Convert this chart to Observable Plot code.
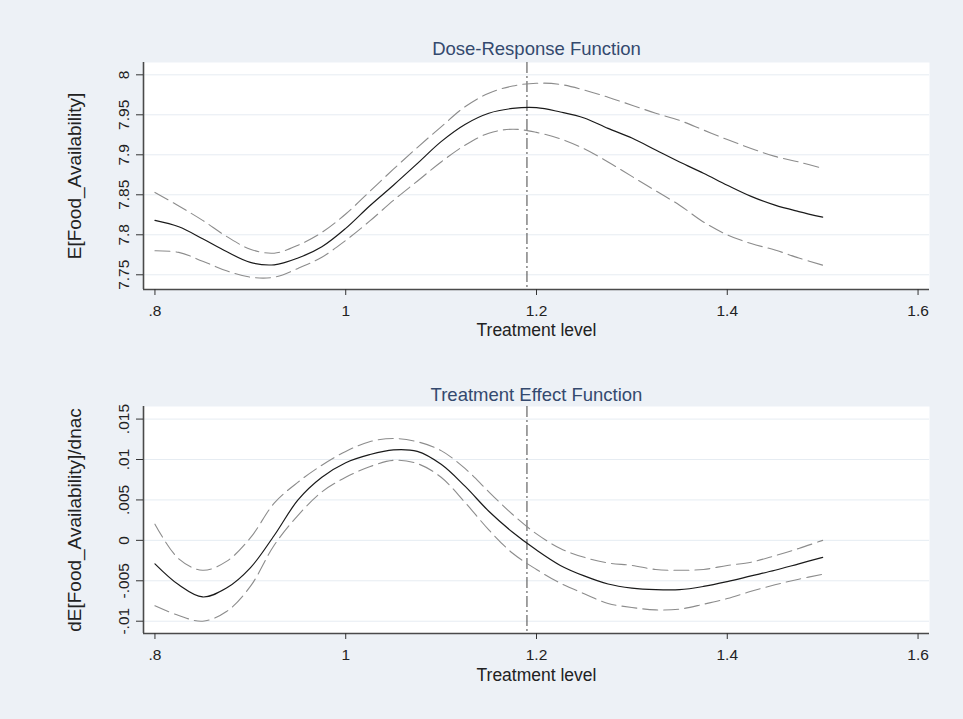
<!DOCTYPE html>
<html>
<head>
<meta charset="utf-8">
<script src="https://cdn.jsdelivr.net/npm/d3@7"></script>
<script src="https://cdn.jsdelivr.net/npm/@observablehq/plot@0.6"></script>
<style>
  html, body { margin: 0; padding: 0; background: #edf1f6; }
  #chart svg { display: block; }
</style>
</head>
<body>
<div id="chart"></div>
<script>
// Treatment levels (x)
const treatment = [0.800, 0.825, 0.850, 0.875, 0.900, 0.925, 0.950, 0.975, 1.000, 1.025,
                   1.050, 1.075, 1.100, 1.125, 1.150, 1.175, 1.200, 1.225, 1.250, 1.275,
                   1.300, 1.325, 1.350, 1.375, 1.400, 1.425, 1.450, 1.475, 1.500];

// Dose-response function
const drfMean  = [7.818, 7.810, 7.795, 7.779, 7.7655, 7.7625, 7.771, 7.785, 7.808, 7.836,
                  7.862, 7.889, 7.9165, 7.938, 7.952, 7.958, 7.959, 7.9535, 7.946, 7.933,
                  7.921, 7.906, 7.891, 7.877, 7.862, 7.848, 7.837, 7.829, 7.822];
const drfUpper = [7.853, 7.836, 7.818, 7.798, 7.782, 7.777, 7.787, 7.803, 7.826, 7.854,
                  7.882, 7.909, 7.935, 7.960, 7.977, 7.986, 7.9895, 7.988, 7.981, 7.972,
                  7.962, 7.952, 7.943, 7.931, 7.919, 7.908, 7.898, 7.891, 7.883];
const drfLower = [7.780, 7.778, 7.767, 7.755, 7.747, 7.747, 7.758, 7.772, 7.793, 7.817,
                  7.843, 7.867, 7.891, 7.912, 7.927, 7.932, 7.928, 7.920, 7.9075, 7.891,
                  7.873, 7.855, 7.837, 7.816, 7.800, 7.789, 7.781, 7.771, 7.762];

// Treatment effect function
const tefMean  = [-0.0029, -0.0055, -0.0070, -0.0059, -0.0034, 0.0006, 0.0050, 0.0078, 0.0096, 0.0106,
                  0.0112, 0.0110, 0.0094, 0.0067, 0.0036, 0.0010, -0.0012, -0.0031, -0.0044, -0.0054,
                  -0.0059, -0.0061, -0.0061, -0.0057, -0.0051, -0.0044, -0.0037, -0.0029, -0.0021];
const tefUpper = [0.0020, -0.0023, -0.0037, -0.0026, 0.0003, 0.0046, 0.0072, 0.0093, 0.0110, 0.0122,
                  0.0126, 0.0122, 0.0111, 0.0089, 0.0060, 0.0032, 0.0008, -0.0010, -0.0021, -0.0028,
                  -0.0031, -0.0036, -0.0037, -0.0036, -0.0031, -0.0027, -0.0019, -0.0010, 0.0000];
const tefLower = [-0.0081, -0.0093, -0.0100, -0.0088, -0.0057, -0.0006, 0.0031, 0.0060, 0.0078, 0.0091,
                  0.0099, 0.0095, 0.0078, 0.0047, 0.0013, -0.0016, -0.0036, -0.0053, -0.0066, -0.0078,
                  -0.0083, -0.0086, -0.0085, -0.0079, -0.0072, -0.0063, -0.0055, -0.0048, -0.0042];

// Reference line (treatment level marked)
const refLevel = [1.19];

// Axes
const xTicks = [0.8, 1.0, 1.2, 1.4, 1.6];
const xTickLabels = [".8", "1", "1.2", "1.4", "1.6"];
const xRange = [0.788, 1.612];

const drfTicks = [7.75, 7.8, 7.85, 7.9, 7.95, 8.0];
const drfTickLabels = ["7.75", "7.8", "7.85", "7.9", "7.95", "8"];
const drfRange = [7.7316, 8.0154];

const tefTicks = [-0.01, -0.005, 0, 0.005, 0.01, 0.015];
const tefTickLabels = ["-.01", "-.005", "0", ".005", ".01", ".015"];
const tefRange = [-0.01152, 0.016556];

const titles = ["Dose-Response Function", "Treatment Effect Function"];
const yTitles = ["E[Food_Availability]", "dE[Food_Availability]/dnac"];
const xTitle = "Treatment level";

const FONT = "'Liberation Sans', Arial, Helvetica, sans-serif";

function panel(o) {
  const rows = treatment.map((t, i) => ({t, mean: o.mean[i], upper: o.upper[i], lower: o.lower[i]}));
  return Plot.plot({
    width: 963,
    height: o.height,
    marginLeft: 143,
    marginRight: 34,
    marginTop: o.mt,
    marginBottom: o.mb,
    style: {background: "#edf1f6", fontFamily: FONT, fontSize: "15px", color: "#222", overflow: "visible"},
    x: {domain: xRange},
    y: {domain: o.yRange},
    marks: [
      Plot.frame({fill: "white", stroke: null}),
      Plot.gridY(o.yTicks, {stroke: "#e6ecf2", strokeOpacity: 1, strokeWidth: 1}),
      Plot.ruleX(refLevel, {stroke: "#444", strokeWidth: 1, strokeDasharray: "11,3,2,3"}),
      Plot.line(rows, {x: "t", y: "upper", stroke: "#8c8c8c", strokeWidth: 1.1, strokeDasharray: "15,6", curve: "catmull-rom"}),
      Plot.line(rows, {x: "t", y: "lower", stroke: "#8c8c8c", strokeWidth: 1.1, strokeDasharray: "15,6", curve: "catmull-rom"}),
      Plot.line(rows, {x: "t", y: "mean", stroke: "#1a1a1a", strokeWidth: 1.2, curve: "catmull-rom"}),
      Plot.ruleX([xRange[0]], {stroke: "#4a4a4a", strokeWidth: 1.6}),
      Plot.ruleY([o.yRange[0]], {stroke: "#4a4a4a", strokeWidth: 1.6}),
      // tick marks
      Plot.axisX(xTicks, {tickFormat: () => "", tickSize: 6, stroke: "#333", label: null}),
      Plot.axisY(o.yTicks, {tickFormat: () => "", tickSize: 7, stroke: "#333", label: null}),
      // tick labels
      Plot.text(xTicks, {x: d => d, text: (d, i) => xTickLabels[i], frameAnchor: "bottom",
        lineAnchor: "top", dy: 15, fontSize: 15.5, fill: "#222"}),
      Plot.text(o.yTicks, {y: d => d, text: (d, i) => o.yLabels[i], frameAnchor: "left",
        textAnchor: "middle", lineAnchor: "bottom", rotate: -90, dx: -15, fontSize: 15.5, fill: "#222"}),
      // titles
      Plot.text([o.title], {text: d => d, frameAnchor: "top", lineAnchor: "bottom", dy: o.titleDy,
        fontSize: 18.5, fill: "#34496e"}),
      Plot.text([xTitle], {text: d => d, frameAnchor: "bottom", lineAnchor: "bottom", dy: o.xTitleDy,
        fontSize: 17.5, fill: "#222"}),
      Plot.text([o.yTitle], {text: d => d, frameAnchor: "left", textAnchor: "middle", lineAnchor: "bottom",
        rotate: -90, dx: -63, fontSize: 19, fill: "#222"})
    ]
  });
}

const chart = document.getElementById("chart");
chart.append(panel({
  title: titles[0], yTitle: yTitles[0],
  mean: drfMean, upper: drfUpper, lower: drfLower,
  yRange: drfRange, yTicks: drfTicks, yLabels: drfTickLabels,
  height: 350, mt: 62, mb: 61, titleDy: -8, xTitleDy: 46
}));
chart.append(panel({
  title: titles[1], yTitle: yTitles[1],
  mean: tefMean, upper: tefUpper, lower: tefLower,
  yRange: tefRange, yTicks: tefTicks, yLabels: tefTickLabels,
  height: 369, mt: 56, mb: 86, titleDy: -6, xTitleDy: 47
}));
</script>
</body>
</html>
